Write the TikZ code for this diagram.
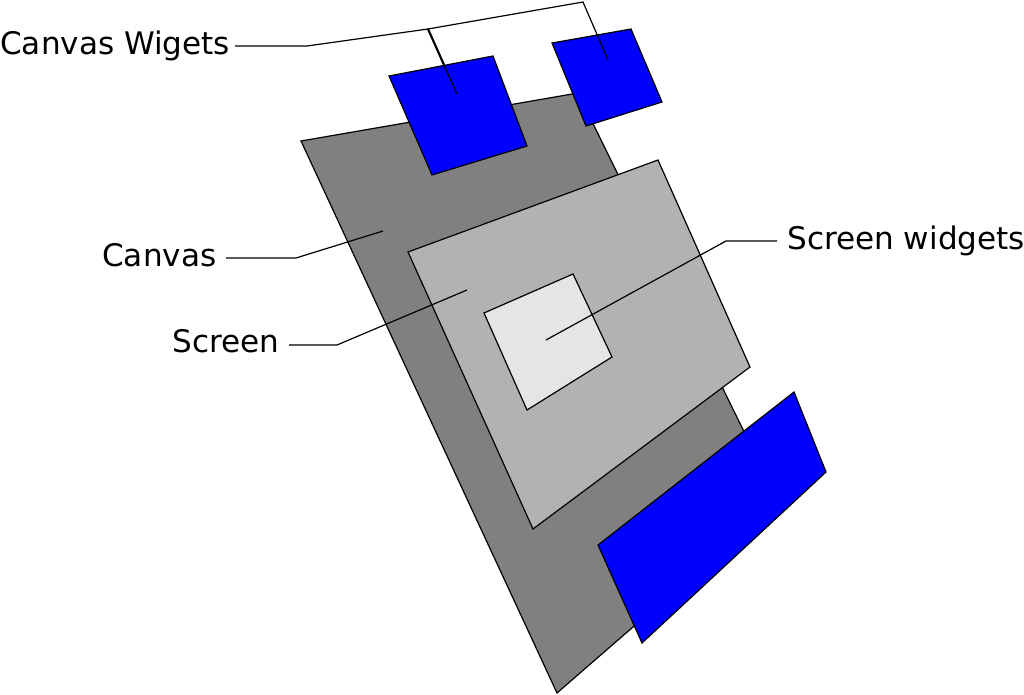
\documentclass[tikz,border=0pt]{standalone}
\usepackage{fontspec}
\setmainfont{DejaVu Sans}
\usetikzlibrary{calc}
\begin{document}
\begin{tikzpicture}[x=0.025cm,y=-0.025cm,
  poly/.style={draw=black,line width=0.85pt,line join=miter},
  leader/.style={draw=black,line width=0.85pt},
  lbl/.style={inner sep=0pt,anchor=base west,font=\fontsize{22.1pt}{26pt}\selectfont}]
\useasboundingbox (0,0) rectangle (1024,695);
% canvas
\coordinate (c1) at (301,141);
\coordinate (c2) at (578,93);
\coordinate (c3) at (778,501);
\coordinate (c4) at (557,693);
\draw[poly,fill=black!50] (c1)--(c2)--(c3)--(c4)--cycle;
% canvas widgets
\draw[poly,fill=blue] (389,76)--(493,56)--(527,146)--(432,175)--cycle;
\draw[poly,fill=blue] (552,43)--(631,29)--(662,102)--(586,126)--cycle;
% screen
\draw[poly,fill=black!30] (408,252)--(658,160)--(750,367)--(533,529)--cycle;
% screen widget
\draw[poly,fill=black!10] (484,313)--(573,274)--(612,357)--(527,410)--cycle;
% bottom widget
\draw[poly,fill=blue] (598,545)--(794,392)--(826,472)--(642,643)--cycle;
% labels
\node[lbl] (lcw) at (0,55) {Canvas Wigets};
\node[lbl] (lc) at (102,266) {Canvas};
\node[lbl] (ls) at (172,352) {Screen};
\node[lbl] (lsw) at (787,250) {Screen widgets};
% leader coordinates
\coordinate (cwA) at (235,46);
\coordinate (cwB) at (307,46);
\coordinate (cwJ) at (428,29);
\coordinate (cwE1) at (457,94);
\coordinate (cwC) at (583,2);
\coordinate (cwE2) at (608,60);
\coordinate (cA) at (226,258);
\coordinate (cB) at (296,258);
\coordinate (cE) at (383,231);
\coordinate (sA) at (289,345);
\coordinate (sB) at (337,345);
\coordinate (sE) at (467,290);
\coordinate (swA) at (777,241);
\coordinate (swB) at (726,241);
\coordinate (swE) at (546,340);
\draw[leader] (cwA)--(cwB)--(cwJ)--(cwE1);
\draw[leader,line width=1.5pt] (cwJ)--($(cwJ)!0.55!(cwE1)$);
\draw[leader] (cwJ)--(cwC)--(cwE2);
\draw[leader] (cA)--(cB)--(cE);
\draw[leader] (sA)--(sB)--(sE);
\draw[leader] (swA)--(swB)--(swE);
\end{tikzpicture}
\end{document}
